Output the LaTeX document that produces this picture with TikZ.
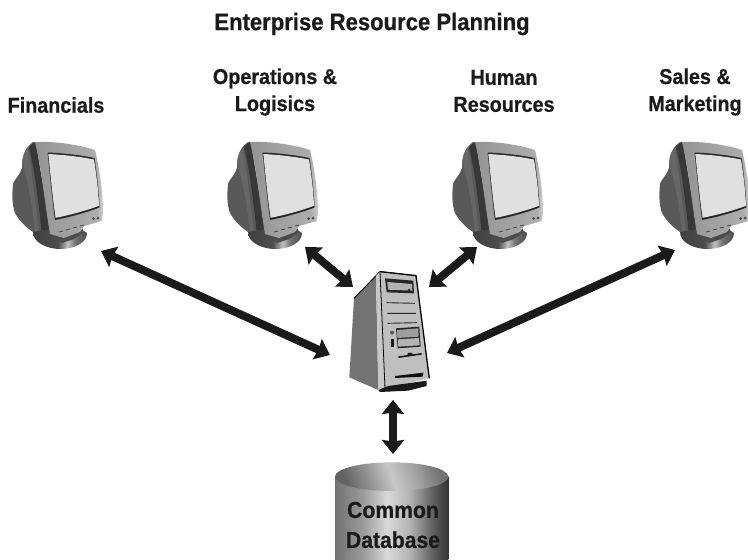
\documentclass[tikz,border=0pt]{standalone}
\usepackage{fontspec}
\setmainfont{Liberation Sans}
\newfontfamily\labelfont[FakeStretch=0.92,FakeBold=0.6]{Liberation Sans Bold}
\usetikzlibrary{arrows.meta}
\definecolor{ink}{HTML}{1A1A1A}
\pgfdeclarehorizontalshading{dbbody}{100bp}{color(0bp)=(black!55); color(25bp)=(black!55); color(37bp)=(black!40); color(48bp)=(black!15); color(58bp)=(black!30); color(68bp)=(black!62); color(75bp)=(black!80); color(100bp)=(black!80)}
\pgfdeclarehorizontalshading{dbtop}{100bp}{color(0bp)=(black!62); color(25bp)=(black!62); color(38bp)=(black!42); color(50bp)=(black!22); color(62bp)=(black!35); color(75bp)=(black!55); color(100bp)=(black!55)}
\pgfdeclarehorizontalshading{standbase}{100bp}{color(0bp)=(black!75); color(25bp)=(black!75); color(48bp)=(black!70); color(57bp)=(black!25); color(64bp)=(black!55); color(75bp)=(black!70); color(100bp)=(black!70)}
\pgfdeclarehorizontalshading{bezelgrad}{100bp}{color(0bp)=(black!42); color(25bp)=(black!42); color(70bp)=(black!32); color(75bp)=(black!20); color(100bp)=(black!20)}
\tikzset{
  x=1pt,y=-1pt,
  link/.style={line width=8pt,draw=ink,{Stealth[inset=1.5pt,length=14pt,width=22pt]}-{Stealth[inset=1.5pt,length=14pt,width=22pt]}},
  unitbox/.style={inner sep=0pt,outer sep=0pt,minimum width=93pt,minimum height=106pt},
  towerbox/.style={inner sep=0pt,outer sep=0pt,minimum width=80pt,minimum height=123pt},
  dbbox/.style={inner sep=0pt,outer sep=0pt,minimum width=113pt,minimum height=98pt},
  head/.style={font=\labelfont\fontsize{21.5}{27}\selectfont,align=center,text=ink,inner sep=0pt},
  title/.style={font=\labelfont\fontsize{24}{26}\selectfont,text=ink,inner sep=0pt},
  dbtext/.style={font=\labelfont\fontsize{23}{30}\selectfont,align=center,text=ink,inner sep=0pt},
  monitor/.pic={
    \fill[black!65] (33,142) .. controls (25,148) and (22,155) .. (22,168) .. controls (20,175) and (14,180) .. (13,184) .. controls (12,195) and (12,205) .. (15,213) .. controls (20,222) and (28,230) .. (40,236) -- (52,232) -- (35,142) -- cycle;
    \fill[black!78] (29,147) .. controls (31,145) and (33,143) .. (36,142) -- (50,232) -- (42,236) .. controls (40,215) and (35,170) .. (29,147) -- cycle;
    \fill[black!60] (22,162) .. controls (23,155) and (25,151) .. (28,148) .. controls (32,175) and (37,210) .. (39,234) -- (35,232) .. controls (33,205) and (27,180) .. (22,162) -- cycle;
    \shade[shading=standbase] (33,232) .. controls (33,243) and (48,249) .. (60,249) .. controls (74,249) and (87,243) .. (87,233) -- (75,225) -- (45,230) -- cycle;
    \fill[black!70] (47,233) -- (62,243) -- (74,239) -- (84,232) -- (80,224) -- cycle;
    \shade[shading=bezelgrad] (35,142) .. controls (55,141) and (80,145) .. (95,150) .. controls (100,170) and (103,195) .. (103,212) -- (102,221) -- (84,226) -- (80,232) -- (64,238) -- (50,234) .. controls (45,205) and (42,170) .. (35,142) -- cycle;
    \fill[black!85] (47.5,152.5) .. controls (62,153) and (80,155) .. (94.5,158) .. controls (97,175) and (99,192) .. (99.5,207.5) .. controls (85,213) and (70,217) .. (55,220) .. controls (52,198) and (50,175) .. (47.5,152.5) -- cycle;
    \fill[black!12] (48.3,154) .. controls (62,154.6) and (80,156.6) .. (94,159.5) .. controls (96.4,175) and (98.4,190) .. (99,205.8) .. controls (85,211) and (70,215) .. (55.6,217.8) .. controls (52.6,198) and (50.6,175) .. (48.3,154) -- cycle;
    \foreach \bx/\by in {59/232,66/230,73/228,80/226}{\draw[black!75,line width=.8pt] (\bx,\by) -- ++(4,-1);}
    \fill[black!70] (93.5,218.5) circle (1.5pt) (98,218) circle (1.5pt);
  }
}
\begin{document}
\begin{tikzpicture}
\useasboundingbox (0,0) rectangle (748,560);
\clip (0,0) rectangle (748,560);
% monitors
\pic at (0,0) {monitor};
\pic at (215,0) {monitor};
\pic at (440,0) {monitor};
\pic at (647,0) {monitor};
% tower
\begin{scope}[shift={(330,260)},x=.3333pt,y=-.3333pt]
  \fill[black!55] (72,115) -- (138,48) -- (145,390) -- (58,352) -- cycle;
  \draw[black,line width=1pt] (72,115) -- (150,35) -- (258,47);
  \fill[black!22] (138,48) -- (150,35) -- (165,385) -- (145,390) -- cycle;
  \fill[black!25] (150,35) -- (258,47) -- (298,355) -- (165,385) -- cycle;
  \draw[black,line width=1.3pt] (150,35) -- (258,47) -- (298,355);
  \draw[black,line width=.8pt] (150,35) -- (165,385);
  \fill[black!90] (145,390) -- (175,378) -- (290,362) -- (290,378) -- (235,392) -- (150,396) -- cycle;
  \fill[black!85] (165,55) -- (250,62) -- (252,100) -- (170,97) -- cycle;
  \fill[black!30] (172,66) -- (246,72) -- (247,92) -- (174,89) -- cycle;
  \fill[black!85] (238,90) circle (4);
  \draw[black!85,line width=.9pt] (170,128) -- (255,130) (172,160) -- (258,160) (173,190) -- (261,188);
  \fill[black!85] (198,205) -- (268,200) -- (272,260) -- (203,265) -- cycle;
  \fill[black!38] (201,210) -- (265,205) -- (266,230) -- (202,234) -- cycle;
  \fill[black!30] (203,238) -- (267,234) -- (269,256) -- (205,260) -- cycle;
  \fill[black!65] (186,218) circle (6);
  \fill[black!90] (184,238) rectangle (193,262);
  \fill[black!90] (205,289) -- (275,279) -- (275,284) -- (205,294) -- cycle;
  \fill[black!90] (240,282) ellipse (8 and 4);
  \fill[black!95] (195,348) -- (280,338) -- (278,350) -- (195,354) -- cycle;
\end{scope}
% database
\begin{scope}[shift={(330,420)},x=.3333pt,y=-.3333pt]
  \shade[shading=dbbody] (15,170) -- (15,425) -- (355,425) -- (355,170) -- cycle;
  \shade[shading=dbtop,shading angle=20] (185,170) ellipse (170 and 43);
\end{scope}
% anchors
\node[unitbox] (fin) at (58.5,195) {};
\node[unitbox] (ops) at (273.5,195) {};
\node[unitbox] (hr) at (498.5,195) {};
\node[unitbox] (sal) at (705.5,195) {};
\node[towerbox] (srv) at (389,333.5) {};
\node[dbbox] (db) at (391.5,511) {};
% connectors
\draw[link] ([shift={(-4,3)}]fin.south east) -- ([shift={(-19,21.5)}]srv.west);
\draw[link] ([shift={(-15,-1)}]ops.south east) -- ([shift={(4,15)}]srv.north west);
\draw[link] ([shift={(25,-1)}]hr.south west) -- ([shift={(0,15)}]srv.north east);
\draw[link] ([shift={(16,2)}]sal.south west) -- ([shift={(18,19.5)}]srv.east);
\draw[link] ([shift={(4,5)}]srv.south) -- ([shift={(1.5,-8)}]db.north);
% text
\node[title] (ttl) at (372,24) {Enterprise Resource Planning};
\node[head] (lfin) at (56,105) {Financials};
\node[head] (lops) at (275,92) {Operations \&\\Logisics};
\node[head] (lhr) at (504,91) {Human\\Resources};
\node[head] (lsal) at (695,92) {Sales \&\\Marketing};
\node[dbtext] (ldb) at (393,525) {Common\\Database};
\end{tikzpicture}
\end{document}
